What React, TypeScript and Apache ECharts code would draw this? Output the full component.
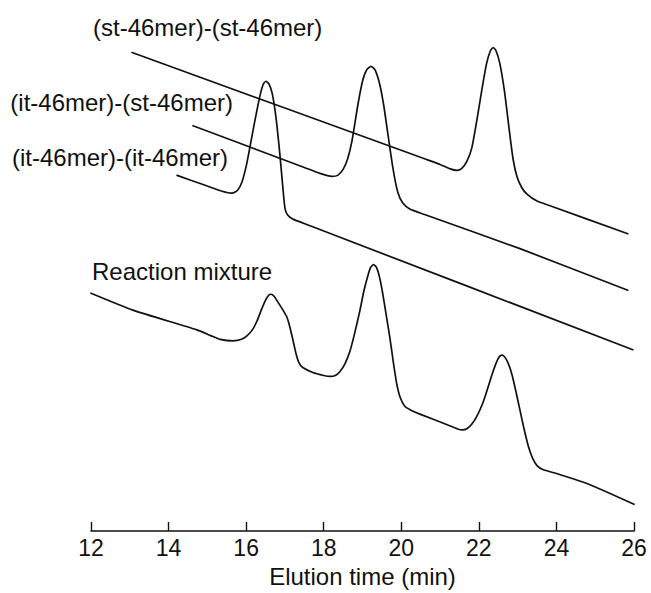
import React, { useEffect, useRef } from "react";
import * as echarts from "echarts";

// Elution time (min) and detector response (arbitrary units, baseline offsets kept as read)
const stSt: [number, number][] = [
  [13.06, 48.3], [20.6, 37.57], [21.0, 37.0], [21.26, 36.55], [21.44, 36.4], [21.56, 36.6],
  [21.69, 37.3], [21.82, 38.7], [21.95, 41.5], [22.08, 44.6], [22.2, 47.2], [22.3, 48.5],
  [22.37, 48.8], [22.44, 48.5], [22.54, 47.2], [22.66, 44.4], [22.78, 40.6], [22.88, 37.6],
  [22.98, 35.8], [23.1, 34.7], [23.24, 34.0], [23.5, 33.3], [23.8, 32.88], [25.84, 30.0],
];

const itSt: [number, number][] = [
  [14.63, 40.9], [17.5, 36.7], [17.9, 36.1], [18.21, 35.8], [18.36, 35.9], [18.5, 36.5],
  [18.62, 37.6], [18.73, 39.4], [18.88, 43.0], [19.0, 45.4], [19.1, 46.5], [19.22, 46.9],
  [19.33, 46.5], [19.45, 45.0], [19.55, 42.9], [19.65, 40.2], [19.79, 36.5], [19.91, 34.2],
  [20.04, 33.1], [20.22, 32.5], [20.6, 31.95], [23.06, 28.5], [25.84, 24.3],
];

const itIt: [number, number][] = [
  [14.22, 35.9], [15.0, 34.82], [15.38, 34.3], [15.64, 34.1], [15.78, 34.4], [15.89, 35.2],
  [16.0, 36.8], [16.1, 38.8], [16.2, 40.9], [16.28, 42.5], [16.36, 44.0], [16.44, 45.1],
  [16.51, 45.4], [16.59, 45.1], [16.67, 44.2], [16.74, 42.6], [16.8, 40.7], [16.87, 38.0],
  [16.93, 35.4], [17.0, 32.6], [17.07, 31.9], [17.2, 31.5], [17.39, 31.2], [17.8, 30.58],
  [25.97, 18.3],
];

const mixture: [number, number][] = [
  [12.0, 24.0], [13.08, 22.3], [14.73, 20.3], [15.1, 19.7], [15.33, 19.35], [15.66, 19.2],
  [15.88, 19.35], [16.02, 19.7], [16.16, 20.3], [16.28, 21.2], [16.4, 22.4], [16.5, 23.3],
  [16.58, 23.8], [16.64, 23.9], [16.72, 23.7], [16.82, 23.1], [16.95, 22.3], [17.05, 21.6],
  [17.12, 20.7], [17.2, 19.4], [17.28, 18.0], [17.36, 17.0], [17.46, 16.5], [17.72, 16.0],
  [18.0, 15.7], [18.16, 15.6], [18.3, 15.7], [18.42, 16.1], [18.55, 16.9], [18.68, 18.2],
  [18.8, 20.0], [18.93, 22.2], [19.04, 24.3], [19.14, 25.8], [19.21, 26.6], [19.28, 26.9],
  [19.36, 26.6], [19.44, 25.6], [19.52, 24.0], [19.62, 21.6], [19.71, 19.4], [19.8, 16.9],
  [19.88, 14.9], [19.97, 13.5], [20.09, 12.6], [20.25, 12.2], [20.48, 11.8], [21.2, 10.7],
  [21.45, 10.3], [21.58, 10.2], [21.7, 10.35], [21.82, 10.8], [21.95, 11.6], [22.1, 12.9],
  [22.22, 14.3], [22.34, 15.8], [22.45, 17.0], [22.53, 17.6], [22.6, 17.75], [22.68, 17.5],
  [22.77, 16.8], [22.86, 15.7], [22.96, 14.0], [23.06, 12.2], [23.16, 10.4], [23.28, 8.5],
  [23.39, 7.3], [23.5, 6.6], [23.65, 6.2], [24.0, 5.8], [24.79, 4.8], [26.0, 2.7],
];

const tickValues = [12, 14, 16, 18, 20, 22, 24, 26];
const traceNames = [
  "(st-46mer)-(st-46mer)",
  "(it-46mer)-(st-46mer)",
  "(it-46mer)-(it-46mer)",
  "Reaction mixture",
];
const xTitle = "Elution time (min)";

export default function App() {
  const ref = useRef<HTMLDivElement>(null);
  useEffect(() => {
    if (!ref.current) return;
    const chart = echarts.init(ref.current, undefined, { renderer: "svg" });
    const font = "'Liberation Sans', Arial, Helvetica, sans-serif";
    const lineStyle = { color: "#111", width: 1.7, join: "round", cap: "round" };
    const mk = (name: string, data: [number, number][]) => ({
      name,
      type: "line",
      data,
      showSymbol: false,
      symbol: "none",
      smooth: 0.2,
      lineStyle,
      silent: true,
    });
    const lbl = 24;
    chart.setOption({
      animation: false,
      backgroundColor: "#fff",
      grid: { left: 91, right: 17, top: 0, bottom: 57 },
      xAxis: {
        type: "value",
        min: 12,
        max: 26,
        interval: 2,
        name: xTitle,
        nameLocation: "middle",
        nameGap: 33,
        nameTextStyle: { fontFamily: font, fontSize: 24, color: "#111" },
        axisLine: { show: true, lineStyle: { color: "#111", width: 1.6 } },
        axisTick: { show: true, inside: true, length: 9, lineStyle: { color: "#111", width: 1.4 } },
        axisLabel: {
          margin: 5,
          fontFamily: font,
          fontSize: 23,
          color: "#111",
          customValues: tickValues,
        },
        splitLine: { show: false },
      },
      yAxis: {
        type: "value",
        min: 0,
        max: 53.6,
        show: false,
        splitLine: { show: false },
      },
      graphic: [
        { type: "text", left: 93, top: 15, style: { text: traceNames[0], font: `${lbl}px ${font}`, fill: "#111" } },
        { type: "text", right: 651 - 233, top: 90, style: { text: traceNames[1], font: `${lbl}px ${font}`, fill: "#111" } },
        { type: "text", right: 651 - 228, top: 145, style: { text: traceNames[2], font: `${lbl}px ${font}`, fill: "#111" } },
        { type: "text", left: 92, top: 259, style: { text: traceNames[3], font: `${lbl}px ${font}`, fill: "#111" } },
      ],
      series: [
        mk(traceNames[0], stSt),
        mk(traceNames[1], itSt),
        mk(traceNames[2], itIt),
        mk(traceNames[3], mixture),
      ],
    });
    return () => chart.dispose();
  }, []);
  return <div ref={ref} style={{ width: 651, height: 593, position: "absolute", left: 0, top: 0 }} />;
}
